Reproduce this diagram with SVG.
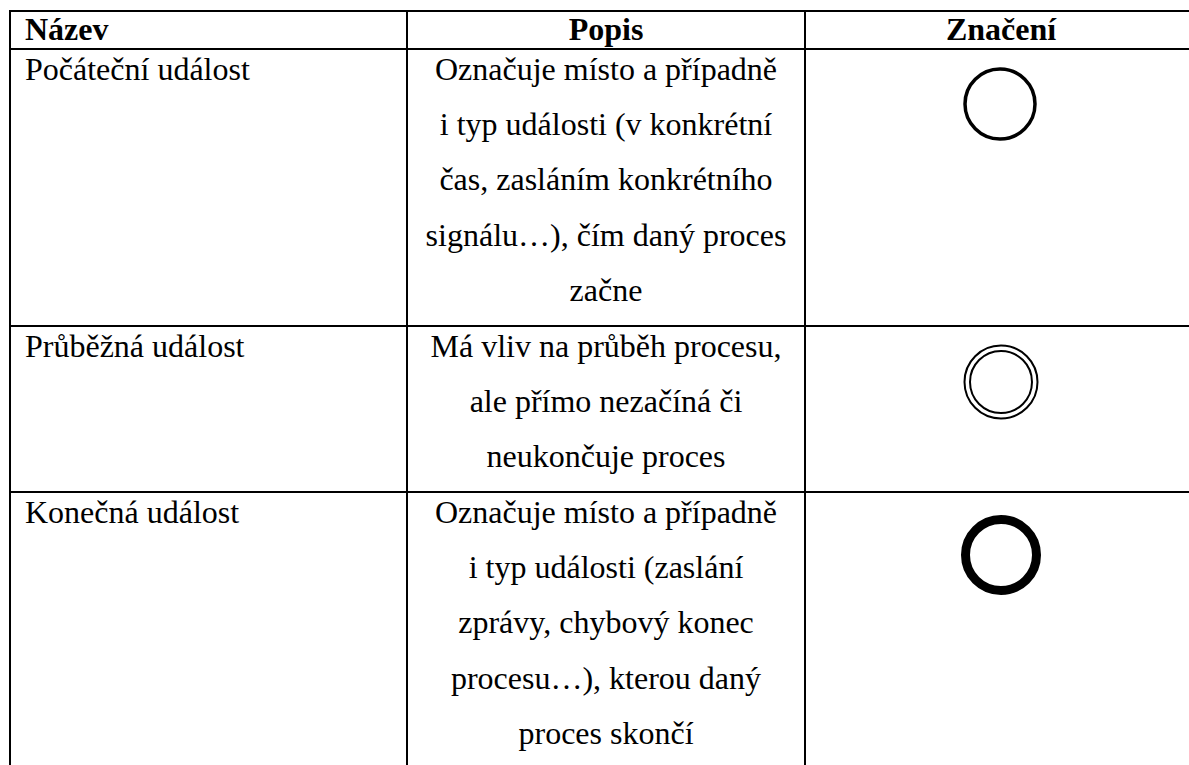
<svg xmlns="http://www.w3.org/2000/svg" width="1189" height="765" viewBox="0 0 1189 765">
  <style>
    text { font-family: "Liberation Serif", "Times New Roman", serif; font-size: 32px; fill: #000; }
    .hd { font-weight: bold; }
    .c { text-anchor: middle; }
    .grid line { stroke: #000; stroke-width: 2; }
    .ev { fill: none; stroke: #000; }
  </style>
  <rect width="1189" height="765" fill="#fff"/>
  <!-- table rules -->
  <g class="grid" id="grid">
    <line x1="9" y1="11" x2="1195" y2="11"/>
    <line x1="9" y1="49" x2="1195" y2="49"/>
    <line x1="9" y1="326" x2="1195" y2="326"/>
    <line x1="9" y1="492" x2="1195" y2="492"/>
    <line x1="10" y1="10" x2="10" y2="765"/>
    <line x1="407" y1="10" x2="407" y2="765"/>
    <line x1="805" y1="10" x2="805" y2="765"/>
  </g>
  <!-- header row -->
  <g id="header">
    <text class="hd" x="25" y="40">Název</text>
    <text class="hd c" x="606" y="40">Popis</text>
    <text class="hd c" x="1001" y="40">Značení</text>
  </g>
  <!-- start event -->
  <g id="start-event">
    <text x="25" y="80">Počáteční událost</text>
    <text class="c" x="606" y="80">Označuje místo a případně</text>
    <text class="c" x="606" y="135">i typ události (v konkrétní</text>
    <text class="c" x="606" y="190">čas, zasláním konkrétního</text>
    <text class="c" x="606" y="246">signálu…), čím daný proces</text>
    <text class="c" x="606" y="301">začne</text>
    <circle class="ev" cx="1000" cy="104" r="35" stroke-width="3.5"/>
  </g>
  <!-- intermediate event -->
  <g id="intermediate-event">
    <text x="25" y="357">Průběžná událost</text>
    <text class="c" x="606" y="357">Má vliv na průběh procesu,</text>
    <text class="c" x="606" y="412">ale přímo nezačíná či</text>
    <text class="c" x="606" y="467">neukončuje proces</text>
    <circle class="ev" cx="1001" cy="382" r="36.5" stroke-width="2" stroke="#333"/>
    <circle class="ev" cx="1001" cy="382" r="31" stroke-width="2" stroke="#333"/>
  </g>
  <!-- end event -->
  <g id="end-event">
    <text x="25" y="523">Konečná událost</text>
    <text class="c" x="606" y="523">Označuje místo a případně</text>
    <text class="c" x="606" y="578">i typ události (zaslání</text>
    <text class="c" x="606" y="633">zprávy, chybový konec</text>
    <text class="c" x="606" y="689">procesu…), kterou daný</text>
    <text class="c" x="606" y="744">proces skončí</text>
    <circle class="ev" cx="1001" cy="555" r="35.5" stroke-width="9"/>
  </g>
</svg>
